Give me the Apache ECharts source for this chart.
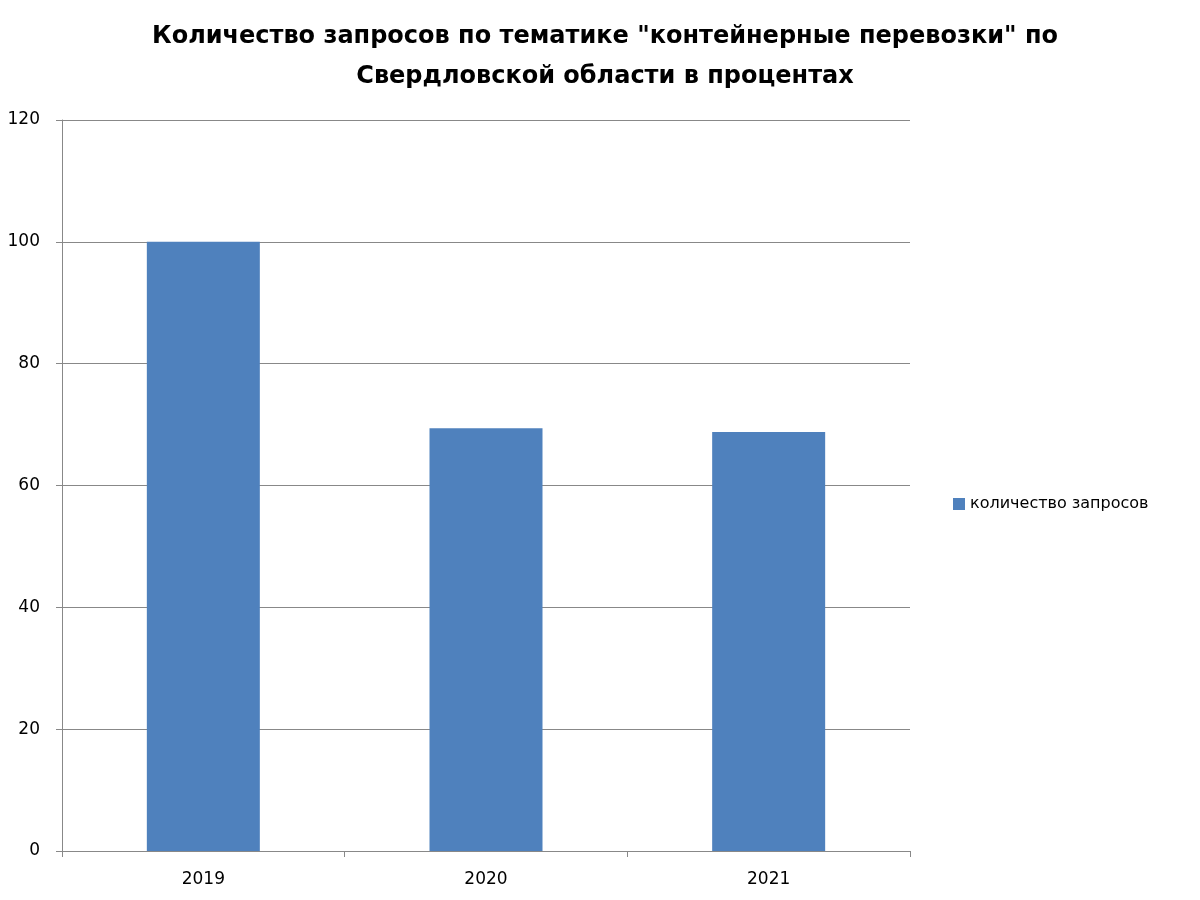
<!DOCTYPE html>
<html>
<head>
<meta charset="utf-8">
<script src="https://cdn.jsdelivr.net/npm/echarts@6/dist/echarts.min.js"></script>
<style>
    html, body { margin: 0; padding: 0; background: #fff; }
    #chart { width: 1200px; height: 900px; }
</style>
</head>
<body>
<div id="chart"></div>
<script>
const years = ['2019', '2020', '2021'];
const requests = [100, 69.4, 68.8];

const myChart = echarts.init(document.getElementById('chart'));
const option = {
    color: ['#4f81bd'],
    title: {
        text: 'Количество запросов по тематике "контейнерные перевозки" по\nСвердловской области в процентах',
        left: 600,
        textAlign: 'center',
        top: 12,
        textStyle: {
            fontFamily: 'DejaVu Sans',
            fontSize: 24,
            fontWeight: 'bold',
            lineHeight: 40,
            color: '#000',
        },
    },
    legend: {
        orient: 'vertical',
        left: 948,
        top: 491,
        itemWidth: 12,
        itemHeight: 12,
        icon: 'rect',
        textStyle: { fontFamily: 'DejaVu Sans', fontSize: 16, color: '#000' },
        data: ['количество запросов'],
    },
    grid: {
        left: 62,
        right: 290,
        top: 120,
        bottom: 49,
        containLabel: false,
    },
    xAxis: {
        type: 'category',
        data: years,
        axisLine: { lineStyle: { color: '#888' } },
        axisTick: { show: true, length: 6, lineStyle: { color: '#888' } },
        axisLabel: { color: '#000', fontSize: 17, fontFamily: 'DejaVu Sans', margin: 20 },
    },
    yAxis: {
        type: 'value',
        min: 0,
        max: 120,
        interval: 20,
        axisLine: { show: true, lineStyle: { color: '#888' } },
        axisTick: { show: true, length: 6, lineStyle: { color: '#888' } },
        axisLabel: { color: '#000', fontSize: 17, fontFamily: 'DejaVu Sans', margin: 22 },
        splitLine: { lineStyle: { color: '#888' } },
    },
    series: [
        {
            name: 'количество запросов',
            type: 'bar',
            barWidth: 113,
            data: requests,
        },
    ],
};
myChart.setOption(option);
window.addEventListener('resize', myChart.resize);
</script>
</body>
</html>
